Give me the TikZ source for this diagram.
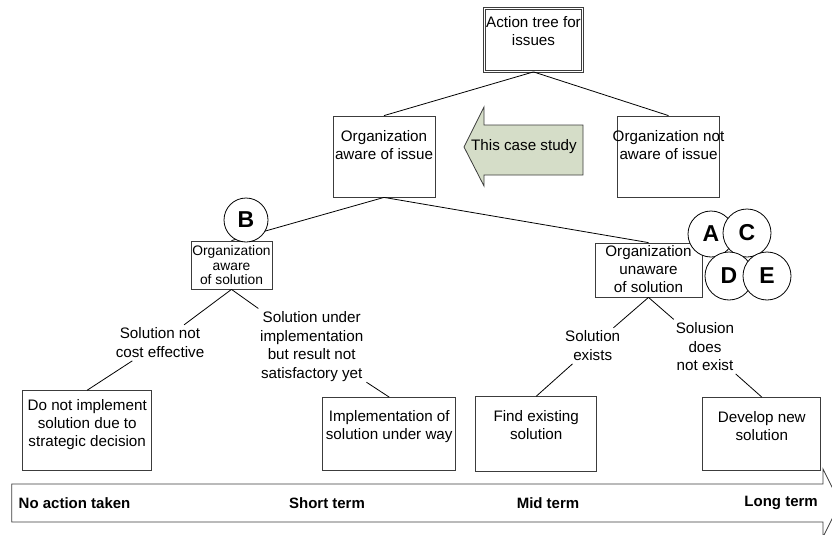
\documentclass[tikz,border=0pt]{standalone}
\usepackage{fontspec}
\setmainfont{Liberation Sans}
\usetikzlibrary{positioning}
\definecolor{studygreen}{RGB}{213,221,200}
\definecolor{edgegray}{RGB}{60,60,60}
\tikzset{
  issuebox/.style={rectangle, draw=edgegray, fill=white, line width=0.8pt,
                   inner sep=0pt},
  boxtext/.style={align=center, inner sep=0pt, font=\fontsize{15.2}{18}\selectfont},
  smalltext/.style={align=center, inner sep=0pt, font=\fontsize{13.8}{14.5}\selectfont},
  branchlabel/.style={align=center, inner sep=3pt, font=\fontsize{15.2}{18.5}\selectfont},
  conn/.style={draw=black, line width=0.8pt},
  casemark/.style={circle, draw=black, fill=white, line width=0.8pt,
                   minimum size=46pt, inner sep=0pt,
                   font=\bfseries\fontsize{23}{23}\selectfont},
  termlabel/.style={font=\bfseries\fontsize{15}{15}\selectfont, inner sep=0pt},
}

\begin{document}
\begin{tikzpicture}[x=1pt, y=-1pt]
  \useasboundingbox (0,0) rectangle (832,535);
  \clip (0,0) rectangle (832,535);

  % --- issue level ---
  \node[issuebox, double, double distance=1.6pt, minimum width=98pt, minimum height=63pt] (tree) at (533.5,40) {};
  \node[boxtext, below=8pt of tree.north] (tree-t) {Action tree for\\ issues};

  \node[issuebox, minimum width=102pt, minimum height=81pt] (aware) at (384,156.5) {};
  \node[boxtext, below=15pt of aware.north] (aware-t) {Organization\\ aware of issue};
  \node[issuebox, minimum width=102pt, minimum height=81pt] (notaware) at (668.5,156.5) {};
  \node[boxtext, below=15pt of notaware.north] (notaware-t) {Organization not\\ aware of issue};

  \draw[conn] (tree.south) -- (aware.north);
  \draw[conn] (tree.south) -- (notaware.north);

  \filldraw[draw=edgegray, fill=studygreen, line width=0.8pt]
    (464,147) -- (484,107) -- (484,125) -- (583,125) -- (583,175) -- (484,175) -- (484,186) -- cycle;
  \node[boxtext] (study) at (524,147) {This case study};

  % --- solution level ---
  \node[issuebox, minimum width=81pt, minimum height=48pt] (awaresol) at (231.5,265) {};
  \node[smalltext, below=5pt of awaresol.north] (awaresol-t) {Organization\\ aware\\ of solution};
  \node[issuebox, minimum width=107pt, minimum height=54pt] (unawaresol) at (648.5,270) {};
  \node[boxtext, below=3pt of unawaresol.north] (unawaresol-t) {Organization\\ unaware\\ of solution};

  \draw[conn] (aware.south) -- (awaresol.north);
  \draw[conn] (aware.south) -- (unawaresol.north);

  % --- actions ---
  \node[issuebox, minimum width=129pt, minimum height=80pt] (donot) at (87.2,430.6) {};
  \node[boxtext, below=9pt of donot.north] (donot-t) {Do not implement\\ solution due to\\ strategic decision};
  \node[issuebox, minimum width=133pt, minimum height=73pt] (impl) at (389.2,434) {};
  \node[boxtext, below=13.5pt of impl.north] (impl-t) {Implementation of\\ solution under way};
  \node[issuebox, minimum width=121pt, minimum height=75pt] (find) at (536.2,434.2) {};
  \node[boxtext, below=14pt of find.north] (find-t) {Find existing\\ solution};
  \node[issuebox, minimum width=118pt, minimum height=73pt] (develop) at (761.8,434) {};
  \node[boxtext, below=14pt of develop.north] (develop-t) {Develop new\\ solution};

  \node[branchlabel] (costlbl) at (160,342.8) {Solution not\\ cost effective};
  \node[branchlabel] (underlbl) at (311.7,346.5) {Solution under\\ implementation\\ but result not\\ satisfactory yet};
  \node[branchlabel] (existslbl) at (592.7,345.8) {Solution\\ exists};
  \node[branchlabel] (notexistlbl) at (705,346.7) {Solusion\\ does\\ not exist};

  \draw[conn] (awaresol.south) -- (costlbl) -- (donot.north);
  \draw[conn] (awaresol.south) -- (underlbl) -- (impl.north);
  \draw[conn] (unawaresol.south) -- (existslbl) -- (find.north);
  \draw[conn] (unawaresol.south) -- (notexistlbl) -- (develop.north);

  % case markers
  \node[casemark, minimum size=44pt] (caseB) at (246,220) {B};
  \node[casemark] (caseA) at (711,234) {A};
  \node[casemark, minimum size=48pt] (caseC) at (747,233) {C};
  \node[casemark, minimum size=48pt] (caseD) at (729,276) {D};
  \node[casemark, minimum size=48pt] (caseE) at (767,276) {E};

  % --- time line ---
  \draw[edgegray, line width=0.8pt, fill=white]
    (11.7,484) -- (823,484) -- (823,469) -- (840,503) -- (823,537) -- (823,522) -- (11.7,522) -- cycle;
  \node[termlabel, anchor=west] (noaction) at (18.5,503) {No action taken};
  \node[termlabel] (shortterm) at (327,503) {Short term};
  \node[termlabel] (midterm) at (548,503) {Mid term};
  \node[termlabel, anchor=east] (longterm) at (818,503) {Long term};
\end{tikzpicture}
\end{document}
